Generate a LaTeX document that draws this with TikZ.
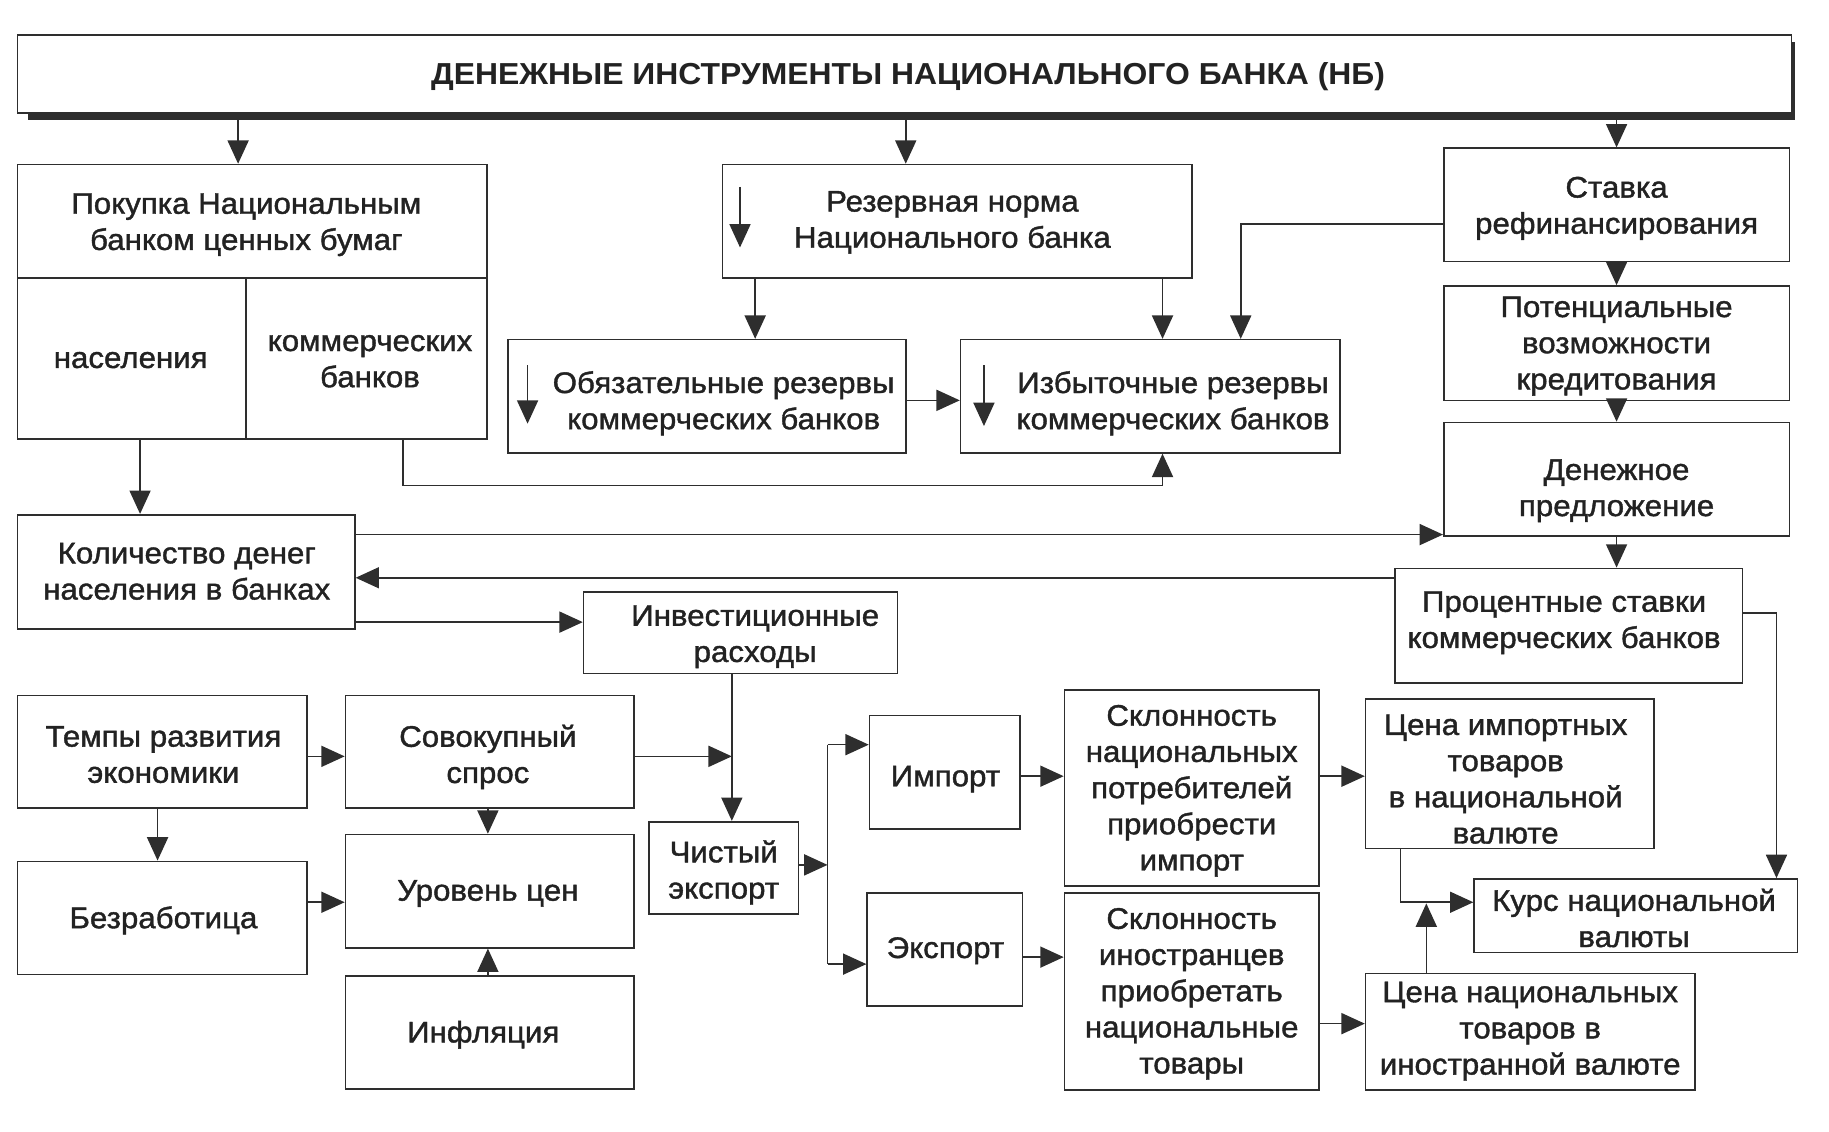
\documentclass[tikz,border=0pt]{standalone}
\usepackage{fontspec}
\setmainfont{Liberation Sans}
\newfontfamily\bodyfont[FakeStretch=1.05,FakeBold=1.3]{Liberation Sans}
\newfontfamily\headfont[FakeStretch=1.05]{Liberation Sans}
\usetikzlibrary{arrows.meta}
\definecolor{lnc}{HTML}{2E2E2E}
\definecolor{txc}{HTML}{222222}
\tikzset{
 box/.style={draw=lnc, line width=1.4pt, fill=white, inner sep=0pt, rectangle},
 lbl/.style={inner sep=0pt, align=center, text=txc, yshift=-2.5pt, font=\bodyfont\fontsize{25.5}{31}\selectfont},
 arr/.style={draw=lnc, line width=1.4pt, -{Triangle[length=20pt,width=18pt]}},
 plain/.style={draw=lnc, line width=1.4pt},
}
\newcommand\mybox[5]{\node[box, minimum width={#4pt-#2pt}, minimum height={#5pt-#3pt}] (#1) at ({(#2+#4)/2},{(#3+#5)/2}) {};}
\begin{document}
\begin{tikzpicture}[x=1pt,y=-1pt]
\useasboundingbox (0,0) rectangle (1567,969);
% title
\node[fill=lnc, inner sep=0pt, minimum width=1514pt, minimum height=67pt] (tsh) at (781,69.5) {};
\mybox{title}{15}{30}{1535}{97}
\node[inner sep=0pt, text=txc, font=\headfont\fontsize{26}{31}\selectfont\bfseries] (ttitle) at (778,66) {ДЕНЕЖНЫЕ ИНСТРУМЕНТЫ НАЦИОНАЛЬНОГО БАНКА (НБ)};
% boxes
\mybox{pok}{15}{141}{417}{238}
\mybox{nas}{15}{238}{211}{376}
\mybox{kom}{211}{238}{417}{376}
\mybox{rez}{619}{141}{1021}{238}
\mybox{stav}{1237}{127}{1533}{224}
\mybox{pot}{1237}{245}{1533}{343}
\mybox{den}{1237}{362}{1533}{459}
\mybox{obz}{435}{291}{776}{388}
\mybox{izb}{823}{291}{1148}{388}
\mybox{kol}{15}{441}{304}{539}
\mybox{proc}{1195}{487}{1493}{585}
\mybox{inv}{500}{507}{769}{577}
\mybox{tem}{15}{596}{263}{692}
\mybox{sov}{296}{596}{543}{692}
\mybox{bez}{15}{738}{263}{835}
\mybox{urv}{296}{715}{543}{812}
\mybox{inf}{296}{836}{543}{933}
\mybox{chi}{556}{704}{684}{783}
\mybox{imp}{745}{613}{874}{710}
\mybox{exp}{743}{765}{876}{862}
\mybox{sklA}{912}{591}{1130}{759}
\mybox{sklB}{912}{765}{1130}{934}
\mybox{cim}{1170}{599}{1417}{727}
\mybox{cnat}{1170}{834}{1452}{934}
\mybox{kurs}{1263}{753}{1540}{816}
% labels
\node[lbl] (tpok) at (211,190) {Покупка Национальным\\банком ценных бумаг};
\node[lbl] (tnas) at (112,306) {населения};
\node[lbl] (tkom) at (317,307) {коммерческих\\банков};
\node[lbl] (trez) at (816,188) {Резервная норма\\Национального банка};
\node[lbl] (tstav) at (1385,176) {Ставка\\рефинансирования};
\node[lbl] (tpot) at (1385,294) {Потенциальные\\возможности\\кредитования};
\node[lbl] (tden) at (1385,418) {Денежное\\предложение};
\node[lbl] (tobz) at (620,343) {Обязательные резервы\\коммерческих банков};
\node[lbl] (tizb) at (1005,343) {Избыточные резервы\\коммерческих банков};
\node[lbl] (tkol) at (160,487) {Количество денег\\населения в банках};
\node[lbl] (tproc) at (1340,531) {Процентные ставки\\коммерческих банков};
\node[lbl] (tinv) at (647,543) {Инвестиционные\\расходы};
\node[lbl] (ttem) at (140,644) {Темпы развития\\экономики};
\node[lbl] (tsov) at (418,646) {Совокупный\\спрос};
\node[lbl] (tbez) at (140,786) {Безработица};
\node[lbl] (turv) at (418,763) {Уровень цен};
\node[lbl] (tinf) at (414,884) {Инфляция};
\node[lbl] (tchi) at (620,745) {Чистый\\экспорт};
\node[lbl] (timp) at (810,665) {Импорт};
\node[lbl] (texp) at (810,812) {Экспорт};
\node[lbl] (tsklA) at (1021,675) {Склонность\\национальных\\потребителей\\приобрести\\импорт};
\node[lbl] (tsklB) at (1021,849) {Склонность\\иностранцев\\приобретать\\национальные\\товары};
\node[lbl] (tcim) at (1290,665) {Цена импортных\\товаров\\в национальной\\валюте};
\node[lbl] (tcnat) at (1311,881) {Цена национальных\\товаров в\\иностранной валюте};
\node[lbl] (tkurs) at (1400,784) {Курс национальной\\валюты};
% inner arrows
\draw[arr] (634,160) -- (634,212);
\draw[arr] (452,313) -- (452,363);
\draw[arr] (843,313) -- (843,365);
% connectors
\draw[arr] (204,0 |- tsh.south) -- (204,0 |- pok.north);
\draw[arr] (776,0 |- tsh.south) -- (776,0 |- rez.north);
\draw[arr] (1385,0 |- tsh.south) -- (stav.north);
\draw[arr] (stav.south) -- (pot.north);
\draw[arr] (pot.south) -- (den.north);
\draw[arr] (den.south) -- (1385,0 |- proc.north);
\draw[arr] (647,0 |- rez.south) -- (647,0 |- obz.north);
\draw[arr] (996,0 |- rez.south) -- (996,0 |- izb.north);
\draw[arr] (stav.west |- 0,192) -- (1063,192) -- (1063,0 |- izb.north);
\draw[arr] (obz.east |- 0,343) -- (izb.west |- 0,343);
\draw[arr] (345,0 |- kom.south) -- (345,416) -- (996,416) -- (996,0 |- izb.south);
\draw[arr] (120,0 |- nas.south) -- (120,0 |- kol.north);
\draw[arr] (kol.east |- 0,458) -- (den.west |- 0,458);
\draw[arr] (proc.west |- 0,495) -- (kol.east |- 0,495);
\draw[arr] (kol.east |- 0,533) -- (inv.west |- 0,533);
\draw[arr] (proc.east |- 0,525) -- (1522,525) -- (1522,0 |- kurs.north);
\draw[arr] (627,0 |- inv.south) -- (627,0 |- chi.north);
\draw[arr] (tem.east |- 0,648) -- (sov.west |- 0,648);
\coordinate (jn) at (627,648);
\draw[arr] (sov.east |- jn) -- (jn);
\draw[arr] (135,0 |- tem.south) -- (135,0 |- bez.north);
\draw[arr] (418,0 |- sov.south) -- (418,0 |- urv.north);
\draw[arr] (bez.east |- 0,773) -- (urv.west |- 0,773);
\draw[arr] (418,0 |- inf.north) -- (418,0 |- urv.south);
\coordinate (sp) at (709,741);
\draw[arr] (chi.east |- sp) -- (sp);
\coordinate (spA) at (709,638);
\coordinate (spB) at (709,826);
\draw[plain] (spA) -- (spB);
\draw[arr] (spA) -- (imp.west |- spA);
\draw[arr] (spB) -- (exp.west |- spB);
\draw[arr] (imp.east |- 0,665) -- (sklA.west |- 0,665);
\draw[arr] (exp.east |- 0,820) -- (sklB.west |- 0,820);
\draw[arr] (sklA.east |- 0,665) -- (cim.west |- 0,665);
\draw[arr] (sklB.east |- 0,877) -- (cnat.west |- 0,877);
\draw[arr] (1200,0 |- cim.south) -- (1200,773) -- (kurs.west |- 0,773);
\draw[arr] (1222,0 |- cnat.north) -- (1222,774);
\end{tikzpicture}
\end{document}
